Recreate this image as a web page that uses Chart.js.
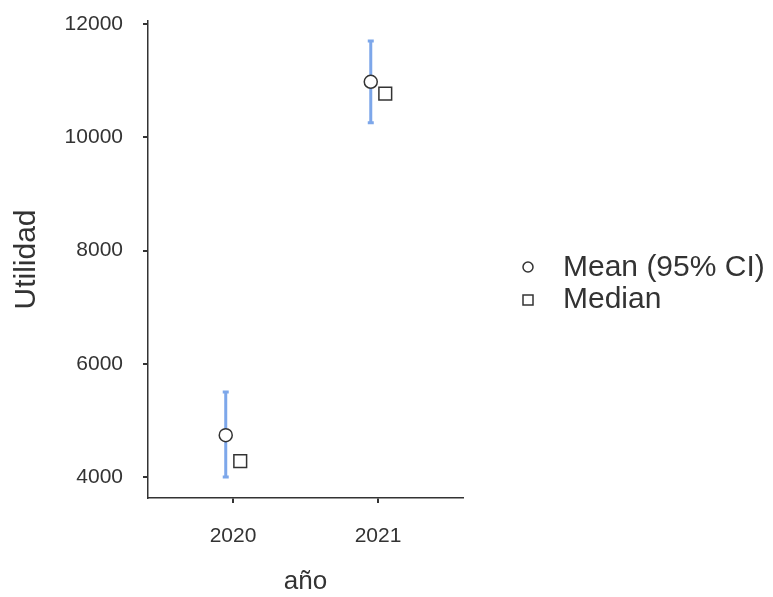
<!DOCTYPE html>
<html>
<head>
<meta charset="utf-8">
<script src="https://cdn.jsdelivr.net/npm/chart.js@4.4.0/dist/chart.umd.min.js"></script>
<style>
    html, body { margin: 0; padding: 0; background: #fff; }
    #wrap { width: 773px; height: 597px; }
</style>
</head>
<body>
<div id="wrap"><canvas id="plot"></canvas></div>
<script>
// años y valores
var categories = ['2020', '2021'];
var meanValues = [4740, 10980];
var ciLower = [4000, 10255];
var ciUpper = [5500, 11700];
var medianValues = [4280, 10770];
var yTicks = [4000, 6000, 8000, 10000, 12000];

var FONT = "'Liberation Sans', Arial, sans-serif";
var INK = '#333333';
var CI_COLOR = '#7da7ea';

var meanPoints = [];
var medianPoints = [];
for (var i = 0; i < categories.length; i++) {
    meanPoints.push({x: i - 0.05, y: meanValues[i]});
    medianPoints.push({x: i + 0.05, y: medianValues[i]});
}

// barras de error del IC 95%
var errorBars = {
    id: 'errorBars',
    beforeDatasetsDraw: function (chart) {
        var ctx = chart.ctx;
        var xs = chart.scales.x;
        var ys = chart.scales.y;
        ctx.save();
        ctx.strokeStyle = CI_COLOR;
        ctx.lineWidth = 3;
        for (var i = 0; i < categories.length; i++) {
            var px = xs.getPixelForValue(i - 0.05);
            var top = ys.getPixelForValue(ciUpper[i]);
            var bottom = ys.getPixelForValue(ciLower[i]);
            ctx.beginPath();
            ctx.moveTo(px, top);
            ctx.lineTo(px, bottom);
            ctx.moveTo(px - 3, top);
            ctx.lineTo(px + 3, top);
            ctx.moveTo(px - 3, bottom);
            ctx.lineTo(px + 3, bottom);
            ctx.stroke();
        }
        ctx.restore();
    }
};

// leyenda a la derecha
var sideLegend = {
    id: 'sideLegend',
    afterDraw: function (chart) {
        var ctx = chart.ctx;
        ctx.save();
        ctx.strokeStyle = INK;
        ctx.fillStyle = '#fff';
        ctx.lineWidth = 1.5;
        ctx.beginPath();
        ctx.arc(528, 267, 5, 0, Math.PI * 2);
        ctx.fill();
        ctx.stroke();
        ctx.fillRect(523, 295, 10, 10);
        ctx.strokeRect(523, 295, 10, 10);
        ctx.fillStyle = INK;
        ctx.font = '30px ' + FONT;
        ctx.textBaseline = 'middle';
        ctx.fillText('Mean (95% CI)', 563, 268);
        ctx.fillText('Median', 563, 300);
        ctx.restore();
    }
};

new Chart(document.getElementById('plot'), {
    type: 'scatter',
    data: {
        datasets: [{
            label: 'Mean (95% CI)',
            data: meanPoints,
            pointStyle: 'circle',
            pointRadius: 6.5,
            pointBackgroundColor: '#fff',
            pointBorderColor: INK,
            pointBorderWidth: 1.5
        }, {
            label: 'Median',
            data: medianPoints,
            pointStyle: 'rect',
            pointRadius: 9,
            pointBackgroundColor: '#fff',
            pointBorderColor: INK,
            pointBorderWidth: 1.5
        }]
    },
    options: {
        responsive: true,
        maintainAspectRatio: false,
        animation: false,
        layout: {padding: {left: 0, right: 310, top: 21, bottom: 0}},
        plugins: {legend: {display: false}, tooltip: {enabled: false}},
        scales: {
            x: {
                type: 'linear',
                min: -0.586,
                max: 1.586,
                afterBuildTicks: function (scale) {
                    scale.ticks = categories.map(function (c, i) { return {value: i}; });
                },
                afterFit: function (scale) {
                    scale.height = 99;
                    scale.paddingLeft = 0;
                    scale.paddingRight = 0;
                },
                ticks: {
                    callback: function (v) { return categories[v]; },
                    color: INK,
                    font: {family: FONT, size: 21},
                    padding: 21
                },
                grid: {drawOnChartArea: false, tickLength: 5, color: INK, lineWidth: 2},
                border: {color: INK, width: 1.5},
                title: {display: true, text: 'año', color: INK, font: {family: FONT, size: 26}, padding: {top: 0, bottom: 0}}
            },
            y: {
                min: 3630,
                max: 12053,
                afterBuildTicks: function (scale) {
                    scale.ticks = yTicks.map(function (v) { return {value: v}; });
                },
                afterFit: function (scale) {
                    scale.width = 148;
                    scale.paddingTop = 0;
                    scale.paddingBottom = 0;
                },
                ticks: {
                    callback: function (v) { return String(v); },
                    color: INK,
                    font: {family: FONT, size: 21},
                    padding: 20
                },
                grid: {drawOnChartArea: false, tickLength: 5, color: INK, lineWidth: 2},
                border: {color: INK, width: 1.5},
                title: {display: true, text: 'Utilidad', color: INK, font: {family: FONT, size: 30}, padding: {top: 9, bottom: 0}}
            }
        }
    },
    plugins: [errorBars, sideLegend]
});
</script>
</body>
</html>
